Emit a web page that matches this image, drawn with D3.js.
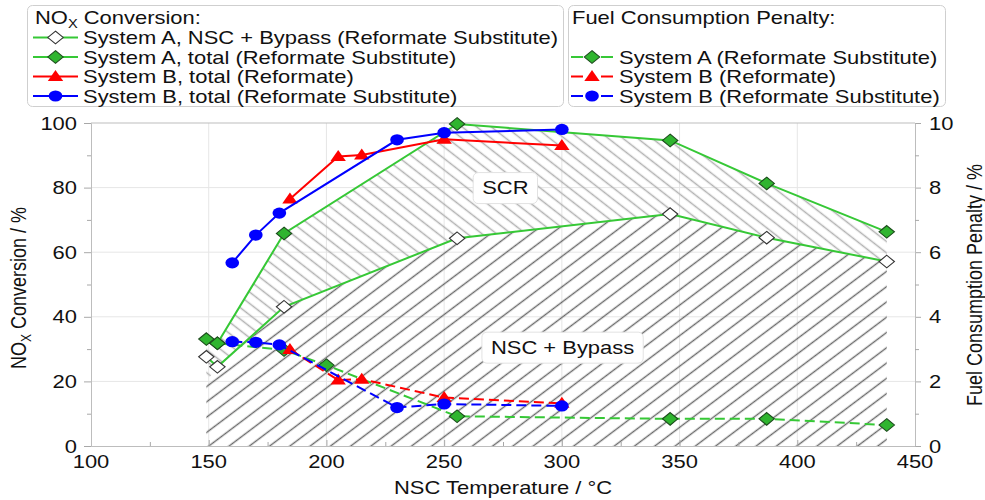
<!DOCTYPE html>
<html>
<head>
<meta charset="utf-8">
<script src="https://cdn.jsdelivr.net/npm/d3@7"></script>
<style>
  body { margin: 0; background: #fff; }
  svg { display: block; font-family: "Liberation Sans", Arial, Helvetica, sans-serif; }
</style>
</head>
<body>
<svg id="chart" width="985" height="500"></svg>
<script>
// ---- axis ticks ----
const xTickValues = [100, 150, 200, 250, 300, 350, 400, 450];
const xMinorTicks = [125, 175, 225, 275, 325, 375, 425];
const leftTickValues = [0, 20, 40, 60, 80, 100];
const leftMinorTicks = [10, 30, 50, 70, 90];
const rightTickValues = [0, 2, 4, 6, 8, 10];
const rightMinorTicks = [1, 3, 5, 7, 9];

// ---- NOx conversion (%) ----
const aBypassTemp = [149, 153.7, 182, 255.5, 346, 387, 438];
const aBypassNox  = [27.6, 24.5, 43.1, 64.3, 71.8, 64.5, 57.1];
const aTotalTemp  = [149, 153.7, 182, 255.5, 346, 387, 438];
const aTotalNox   = [33.1, 31.8, 65.8, 99.7, 94.6, 81.3, 66.3];
const bRefTemp    = [184.5, 205, 215, 250, 300];
const bRefNox     = [76.5, 89.6, 90.1, 95, 93];
const bSubTemp    = [160, 170, 180, 230, 250, 300];
const bSubNox     = [56.7, 65.3, 72.1, 94.8, 97, 98];

// ---- fuel consumption penalty (%) ----
const aFuelTemp       = [153.7, 182, 200, 255.5, 346, 387, 438];
const aFuelPenalty    = [3.18, 2.97, 2.5, 0.92, 0.84, 0.84, 0.65];
const bRefFuelTemp    = [184.5, 205, 215, 250, 300];
const bRefFuelPenalty = [2.99, 2.04, 2.07, 1.5, 1.32];
const bSubFuelTemp    = [160, 170, 180, 230, 250, 300];
const bSubFuelPenalty = [3.23, 3.21, 3.13, 1.19, 1.3, 1.24];

// ---- hatched regions (share temperatures with System A) ----
const regionTemp  = [149, 153.7, 182, 255.5, 346, 387, 438];
const nscBoundary = [20, 24.5, 43.1, 64.3, 71.8, 64.5, 57.1];

// ---- layout ----
const M = { left: 91, right: 915, top: 123, bottom: 446 };
const SX = 1.22;               // horizontal glyph/marker stretch
const FONT = 18;
const GREEN = "#36c836", RED = "#ff0000", BLUE = "#0000ff";

const svg = d3.select("#chart");
const x  = d3.scaleLinear().domain([100, 450]).range([M.left, M.right]);
const yL = d3.scaleLinear().domain([0, 100]).range([M.bottom, M.top]);
const yR = d3.scaleLinear().domain([0, 10]).range([M.bottom, M.top]);

function txt(parent, str, px, py, anchor, size) {
  return parent.append("text")
    .attr("transform", `translate(${px},${py}) scale(${SX},1)`)
    .attr("text-anchor", anchor || "start")
    .attr("font-size", size || FONT)
    .attr("fill", "#111")
    .text(str);
}

// ---- hatch patterns ----
const defs = svg.append("defs");
function hatch(id, angle, spacing, color, width) {
  const p = defs.append("pattern").attr("id", id)
    .attr("patternUnits", "userSpaceOnUse")
    .attr("width", 60).attr("height", spacing)
    .attr("patternTransform", `rotate(${angle})`);
  p.append("line").attr("x1", 0).attr("x2", 60)
    .attr("y1", spacing / 2).attr("y2", spacing / 2)
    .attr("stroke", color).attr("stroke-width", width);
}
hatch("hatchNsc", -37, 12.2, "#6a6a6a", 1.4);
hatch("hatchScr", 38, 9, "#b2b2b2", 1.3);

// ---- grid ----
const grid = svg.append("g").attr("stroke", "#e6e6e6").attr("stroke-width", 1);
grid.selectAll("line.v").data(xTickValues.slice(1, -1)).join("line")
  .attr("x1", d => x(d)).attr("x2", d => x(d)).attr("y1", M.top).attr("y2", M.bottom);
grid.selectAll("line.h").data(leftTickValues.slice(1, -1)).join("line")
  .attr("x1", M.left).attr("x2", M.right).attr("y1", d => yL(d)).attr("y2", d => yL(d));

// ---- hatched regions ----
const nscArea = d3.area()
  .x((d, i) => x(regionTemp[i])).y0(yL(0)).y1((d, i) => yL(nscBoundary[i]));
const scrArea = d3.area()
  .x((d, i) => x(regionTemp[i]))
  .y0((d, i) => yL(nscBoundary[i])).y1((d, i) => yL(aTotalNox[i]));
svg.append("path").datum(regionTemp).attr("d", scrArea).attr("fill", "url(#hatchScr)");
svg.append("path").datum(regionTemp).attr("d", nscArea).attr("fill", "url(#hatchNsc)");

// ---- frame & axes ----
const frame = svg.append("g").attr("stroke", "#bdbdbd").attr("stroke-width", 1).attr("fill", "none");
frame.append("line").attr("x1", M.left).attr("x2", M.right).attr("y1", M.top).attr("y2", M.top);

function styleAxis(g) {
  g.select(".domain").attr("stroke", "#bdbdbd");
  g.selectAll(".tick line").attr("stroke", "#a8a8a8");
  g.selectAll(".tick text").remove();
}
svg.append("g").attr("transform", `translate(0,${M.bottom})`)
  .call(d3.axisBottom(x).tickValues(xTickValues).tickSizeInner(-6).tickSizeOuter(0)).call(styleAxis);
svg.append("g").attr("transform", `translate(0,${M.bottom})`)
  .call(d3.axisBottom(x).tickValues(xMinorTicks).tickSizeInner(-4).tickSizeOuter(0)).call(styleAxis);
svg.append("g").attr("transform", `translate(${M.left},0)`)
  .call(d3.axisLeft(yL).tickValues(leftTickValues).tickSizeInner(7).tickSizeOuter(0)).call(styleAxis);
svg.append("g").attr("transform", `translate(${M.left},0)`)
  .call(d3.axisLeft(yL).tickValues(leftMinorTicks).tickSizeInner(4).tickSizeOuter(0)).call(styleAxis);
svg.append("g").attr("transform", `translate(${M.right},0)`)
  .call(d3.axisRight(yR).tickValues(rightTickValues).tickSizeInner(6).tickSizeOuter(0)).call(styleAxis);
svg.append("g").attr("transform", `translate(${M.right},0)`)
  .call(d3.axisRight(yR).tickValues(rightMinorTicks).tickSizeInner(4).tickSizeOuter(0)).call(styleAxis);

// tick labels
const labels = svg.append("g");
xTickValues.forEach(v => txt(labels, String(v), x(v), 468, "middle"));
leftTickValues.forEach(v => txt(labels, String(v), 77, yL(v) + 6.5, "end"));
rightTickValues.forEach(v => txt(labels, String(v), 929, yR(v) + 6.5, "start"));

// axis titles
txt(labels, "NSC Temperature / °C", x(275), 494, "middle");
const yTitle = labels.append("text")
  .attr("transform", `translate(26,288) scale(${SX},1) rotate(-90)`)
  .attr("text-anchor", "middle").attr("font-size", FONT).attr("fill", "#111");
yTitle.append("tspan").text("NO");
yTitle.append("tspan").attr("font-size", 12).attr("dy", 4).text("X");
yTitle.append("tspan").attr("dy", -4).text(" Conversion / %");
labels.append("text")
  .attr("transform", `translate(982,285) scale(${SX},1) rotate(-90)`)
  .attr("text-anchor", "middle").attr("font-size", FONT).attr("fill", "#111")
  .text("Fuel Consumption Penalty / %");

// ---- region labels ----
function regionLabel(str, tx, ty) {
  const g = svg.append("g");
  const t = txt(g, str, x(tx), yL(ty) + 6.5, "middle");
  const w = t.node().getBBox().width * SX + 18;
  g.insert("rect", "text")
    .attr("x", x(tx) - w / 2).attr("y", yL(ty) - 15).attr("width", w).attr("height", 31)
    .attr("rx", 5).attr("fill", "#fff").attr("stroke", "#e2e2e2");
}
regionLabel("SCR", 276, 80);
regionLabel("NSC + Bypass", 300.3, 30.6);

// ---- markers ----
const shapes = {
  diamond: "M0,-6.3L6.3,0L0,6.3L-6.3,0Z",
  triangle: "M0,-6.5L6.3,4.5L-6.3,4.5Z",
  circle: d3.symbol(d3.symbolCircle, Math.PI * 5.6 * 5.6)()
};
function marker(parent, shape, px, py, fill, stroke) {
  parent.append("path").attr("d", shapes[shape])
    .attr("transform", `translate(${px},${py}) scale(${SX},1)`)
    .attr("fill", fill).attr("stroke", stroke || "none").attr("stroke-width", stroke ? 1 : 0);
}

function series(temps, vals, y, opt) {
  const g = svg.append("g");
  const pts = d3.zip(temps, vals);
  g.append("path").datum(pts)
    .attr("d", d3.line().x(d => x(d[0])).y(d => y(d[1])))
    .attr("fill", "none").attr("stroke", opt.color).attr("stroke-width", 2)
    .attr("stroke-dasharray", opt.dash || null);
  pts.forEach(d => marker(g, opt.shape, x(d[0]), y(d[1]), opt.fill, opt.stroke));
}

// fuel penalty (dashed, right axis)
series(aFuelTemp, aFuelPenalty, yR, { color: GREEN, dash: "10,5", shape: "diamond", fill: "#2fb52f", stroke: "#1d4d1d" });
series(bRefFuelTemp, bRefFuelPenalty, yR, { color: RED, dash: "10,5", shape: "triangle", fill: RED });
series(bSubFuelTemp, bSubFuelPenalty, yR, { color: BLUE, dash: "10,5", shape: "circle", fill: BLUE });
// NOx conversion (solid, left axis)
series(aBypassTemp, aBypassNox, yL, { color: GREEN, shape: "diamond", fill: "#fff", stroke: "#333" });
series(aTotalTemp, aTotalNox, yL, { color: GREEN, shape: "diamond", fill: "#2fb52f", stroke: "#1d4d1d" });
series(bRefTemp, bRefNox, yL, { color: RED, shape: "triangle", fill: RED });
series(bSubTemp, bSubNox, yL, { color: BLUE, shape: "circle", fill: BLUE });

// ---- legends ----
const legL = svg.append("g");
legL.append("rect").attr("x", 27.5).attr("y", 5.5).attr("width", 536).attr("height", 101)
  .attr("rx", 5).attr("fill", "#fff").attr("stroke", "#cfcfcf");
const ttl = legL.append("text")
  .attr("transform", `translate(35,24) scale(${SX},1)`)
  .attr("font-size", FONT).attr("fill", "#111");
ttl.append("tspan").text("NO");
ttl.append("tspan").attr("font-size", 12).attr("dy", 4).text("X");
ttl.append("tspan").attr("dy", -4).text(" Conversion:");

const noxLegend = [
  { label: "System A, NSC + Bypass (Reformate Substitute)", color: GREEN, shape: "diamond", fill: "#fff", stroke: "#333" },
  { label: "System A, total (Reformate Substitute)", color: GREEN, shape: "diamond", fill: "#2fb52f", stroke: "#1d4d1d" },
  { label: "System B, total (Reformate)", color: RED, shape: "triangle", fill: RED },
  { label: "System B, total (Reformate Substitute)", color: BLUE, shape: "circle", fill: BLUE }
];
noxLegend.forEach((d, i) => {
  const cy = 37.5 + i * 19.5;
  legL.append("line").attr("x1", 33).attr("x2", 78).attr("y1", cy).attr("y2", cy)
    .attr("stroke", d.color).attr("stroke-width", 2);
  marker(legL, d.shape, 55.5, cy, d.fill, d.stroke);
  txt(legL, d.label, 83, cy + 6.5, "start");
});

const legR = svg.append("g");
legR.append("rect").attr("x", 568.5).attr("y", 5.5).attr("width", 377).attr("height", 101)
  .attr("rx", 5).attr("fill", "#fff").attr("stroke", "#cfcfcf");
txt(legR, "Fuel Consumption Penalty:", 572, 24, "start");
const fuelLegend = [
  { label: "System A (Reformate Substitute)", color: GREEN, shape: "diamond", fill: "#2fb52f", stroke: "#1d4d1d" },
  { label: "System B (Reformate)", color: RED, shape: "triangle", fill: RED },
  { label: "System B (Reformate Substitute)", color: BLUE, shape: "circle", fill: BLUE }
];
fuelLegend.forEach((d, i) => {
  const cy = 57 + i * 19.5;
  legR.append("line").attr("x1", 571).attr("x2", 613).attr("y1", cy).attr("y2", cy)
    .attr("stroke", d.color).attr("stroke-width", 2).attr("stroke-dasharray", "12,18");
  marker(legR, d.shape, 592, cy, d.fill, d.stroke);
  txt(legR, d.label, 619, cy + 6.5, "start");
});
</script>
</body>
</html>
